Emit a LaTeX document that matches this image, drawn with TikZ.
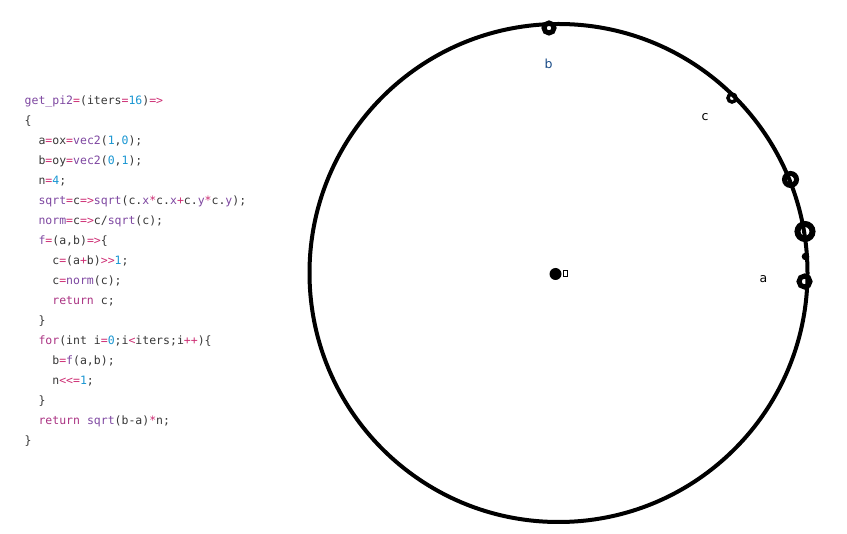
\documentclass[tikz,border=0pt]{standalone}
\usepackage{fontspec}
\usepackage{tikz}
\newfontfamily\codefont{DejaVu Sans Mono}
\newfontfamily\labelfont{DejaVu Sans}
\definecolor{codetext}{RGB}{55,55,55}
\definecolor{codeid}{RGB}{125,70,160}
\definecolor{codekw}{RGB}{170,50,130}
\definecolor{codeop}{RGB}{205,45,115}
\definecolor{codenum}{RGB}{25,150,210}
\definecolor{labelb}{RGB}{25,75,135}
\newcommand{\cid}[1]{\textcolor{codeid}{#1}}
\newcommand{\ckw}[1]{\textcolor{codekw}{#1}}
\newcommand{\cop}[1]{\textcolor{codeop}{#1}}
\newcommand{\cnum}[1]{\textcolor{codenum}{#1}}
\newcommand{\codeln}[4]{\node[code] (#1) at ({24.5+6.92*#2}, #3) {#4};}
\newcommand{\blob}[5]{\coordinate (#1) at (#2,#3); \draw[line width=#5] (#1) circle (#4);}

\begin{document}
\begin{tikzpicture}[x=1pt, y=-1pt,
    code/.style={anchor=base west, inner sep=0pt, text=codetext,
        font=\codefont\fontsize{11.5}{13}\selectfont},
    ptlabel/.style={inner sep=0pt, font=\labelfont\fontsize{12.5}{14}\selectfont}]
        \useasboundingbox (0,0) rectangle (847,534);
        % code listing
        \codeln{l1}{0}{105}{\cid{get\_pi2}\cop{=}(iters\cop{=}\cnum{16})\cop{=>}}
        \codeln{l2}{0}{125}{\{}
        \codeln{l3}{2}{145}{a\cop{=}ox\cop{=}\cid{vec2}(\cnum{1},\cnum{0});}
        \codeln{l4}{2}{165}{b\cop{=}oy\cop{=}\cid{vec2}(\cnum{0},\cnum{1});}
        \codeln{l5}{2}{185}{n\cop{=}\cnum{4};}
        \codeln{l6}{2}{205}{\cid{sqrt}\cop{=}c\cop{=>}\cid{sqrt}(c.\cid{x}\cop{*}c.\cid{x}\cop{+}c.\cid{y}\cop{*}c.\cid{y});}
        \codeln{l7}{2}{225}{\cid{norm}\cop{=}c\cop{=>}c/\cid{sqrt}(c);}
        \codeln{l8}{2}{245}{\cid{f}\cop{=}(a,b)\cop{=>}\{}
        \codeln{l9}{4}{265}{c\cop{=}(a\cop{+}b)\cop{>>}\cnum{1};}
        \codeln{l10}{4}{285}{c\cop{=}\cid{norm}(c);}
        \codeln{l11}{4}{305}{\ckw{return} c;}
        \codeln{l12}{2}{325}{\}}
        \codeln{l13}{2}{345}{\ckw{for}(int i\cop{=}\cnum{0};i\cop{<}iters;i\cop{++})\{}
        \codeln{l14}{4}{365}{b\cop{=}\cid{f}(a,b);}
        \codeln{l15}{4}{385}{n\cop{<<=}\cnum{1};}
        \codeln{l16}{2}{405}{\}}
        \codeln{l17}{2}{425}{\ckw{return} \cid{sqrt}(b-a)\cop{*}n;}
        \codeln{l18}{0}{445}{\}}
        % unit circle
        \coordinate (o) at (558.5,273);
        \draw[line width=4pt] (o) circle (249pt);
        % points on the circle
        \blob{pb}{549}{28}{5pt}{5pt}
        \blob{pc}{732}{98}{4pt}{3.5pt}
        \blob{p1}{790.5}{179.5}{6pt}{5pt}
        \blob{p2}{805}{231.5}{7.5pt}{6pt}
        \fill (805.5,256.5) coordinate (p3) circle (3.8pt);
        \blob{pa}{804.5}{281.5}{5.5pt}{5pt}
        % centre
        \fill (o) ++(-3,1) circle (6pt);
        \draw[line width=1pt] (563,270.5) rectangle (567,277);
        % labels
        \node[ptlabel, text=labelb] (lb) at (548.5,64) {b};
        \node[ptlabel] (lc) at (705,117.5) {c};
        \node[ptlabel] (la) at (763.5,279.5) {a};
\end{tikzpicture}
\end{document}
